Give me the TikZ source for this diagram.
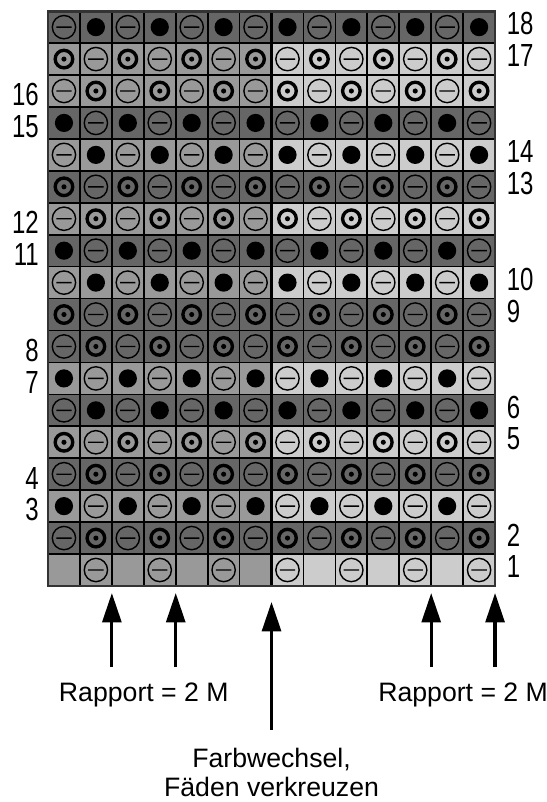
\documentclass[tikz,border=0pt]{standalone}
\usepackage{fontspec}
\setmainfont{Liberation Sans}
\newfontfamily\zahlfont[FakeStretch=0.75]{Liberation Sans}
\usetikzlibrary{arrows.meta}

\definecolor{dunkel}{HTML}{666666}
\definecolor{mittel}{HTML}{999999}
\definecolor{hell}{HTML}{CCCCCC}
\definecolor{rand}{HTML}{333333}

\tikzset{
	masche/.style={line width=1pt},
	ring/.style={line width=2.4pt},
	gitter/.style={line width=1.2pt},
	pfeil/.style={line width=2.3pt,-{Triangle[length=21pt,width=13.5pt]}},
	zahl/.style={inner sep=0pt,font=\zahlfont\fontsize{22.8}{27}\selectfont},
	schrift/.style={inner sep=0pt,anchor=base,font=\fontsize{19}{23}\selectfont}
}

% Maschenzeichen: 0 leer, 1 Kreis mit Strich, 2 Punkt, 3 Ring
\newcommand\MLeer[2]{}
\newcommand\MMinus[2]{\draw[masche] (#1,#2) circle (0.365) (#1-0.24,#2) -- (#1+0.24,#2);}
\newcommand\MPunkt[2]{\fill (#1,#2) circle (0.285);}
\newcommand\MRing[2]{\draw[ring] (#1,#2) circle (0.275); \fill (#1,#2) circle (0.08);}
\newcommand\Masche[3]{%
	\ifcase#1\relax\let\mnext\MLeer\or\let\mnext\MMinus\or\let\mnext\MPunkt\or\let\mnext\MRing\fi
	\mnext{#2}{#3}}

\begin{document}
\begin{tikzpicture}[x=0.8cm,y=0.8cm]

		\useasboundingbox (-1.503,-6.765) rectangle (15.625,18.35);
		
		\foreach \r/\o/\e/\lf/\rf in {
			18/1/2/dunkel/dunkel, 17/3/1/mittel/hell, 16/1/3/mittel/hell,
			15/2/1/dunkel/dunkel, 14/1/2/mittel/hell, 13/3/1/dunkel/dunkel,
			12/1/3/mittel/hell, 11/2/1/dunkel/dunkel, 10/1/2/mittel/hell,
			9/3/1/dunkel/dunkel, 8/1/3/dunkel/dunkel, 7/2/1/mittel/hell,
			6/1/2/dunkel/dunkel, 5/3/1/mittel/hell, 4/1/3/dunkel/dunkel,
			3/2/1/mittel/hell, 2/1/3/dunkel/dunkel, 1/0/1/mittel/hell}{
			\fill[\lf] (0,\r-1) rectangle (7,\r);
			\fill[\rf] (7,\r-1) rectangle (14,\r);
			\foreach \c in {1,...,14}{
				\ifodd\c\relax\let\code\o\else\let\code\e\fi
				\Masche{\code}{\c-0.5}{\r-0.5}
			}
		}
		
		\foreach \c in {1,...,13}
			\draw [gitter] (\c,0) -- (\c,18);
		\foreach \r in {1,...,17}
			\draw [gitter] (0,\r) -- (14,\r);
		\draw [line width=2pt] (7,0) -- (7,18);
		\draw [rand, line width=2pt] (0,0) rectangle (14,18);
		
		\foreach \r in {18,17,14,13,10,9,6,5,2,1}
			\node [zahl, anchor=west] (Z\r) at (14.36,\r-0.4) {\r};
		\foreach \r in {16,15,12,11,8,7,4,3}
			\node [zahl, anchor=east] (Z\r) at (-0.28,\r-0.62) {\r};
		
		\coordinate (S2) at (2,-0.22);
		\coordinate (S4) at (4,-0.22);
		\coordinate (S12) at (12,-0.22);
		\coordinate (S14) at (14,-0.22);
		\coordinate (S7) at (7,-0.5);
		\coordinate (E2) at (2,-2.54);
		\coordinate (E4) at (4,-2.54);
		\coordinate (E12) at (12,-2.54);
		\coordinate (E14) at (14,-2.54);
		\coordinate (E7) at (7,-4.51);
		
		\draw [pfeil] (E2) -- (S2);
		\draw [pfeil] (E4) -- (S4);
		\draw [pfeil] (E12) -- (S12);
		\draw [pfeil] (E14) -- (S14);
		\draw [pfeil] (E7) -- (S7);
		
		\node [schrift] (RL) at (3,-3.63) {Rapport = 2 M};
		\node [schrift] (RR) at (13,-3.63) {Rapport = 2 M};
		\node [schrift] (F1) at (7,-5.68) {Farbwechsel,};
		\node [schrift] (F2) at (7,-6.58) {Fäden verkreuzen};

\end{tikzpicture}
\end{document}
